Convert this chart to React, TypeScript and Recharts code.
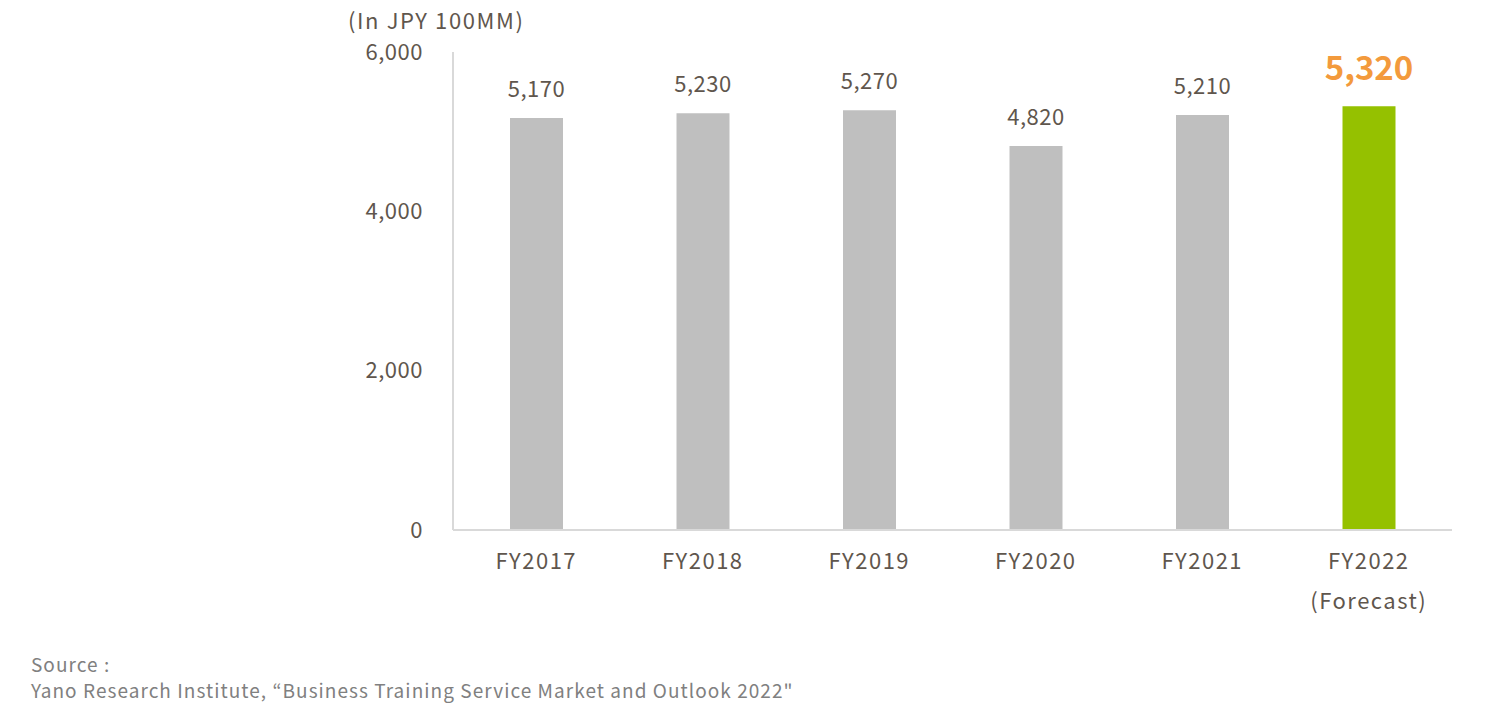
import React from 'react';
import { BarChart, Bar, XAxis, YAxis, Cell, LabelList } from 'recharts';

const years = ['FY2017', 'FY2018', 'FY2019', 'FY2020', 'FY2021', 'FY2022\n(Forecast)'];
const marketSize = [5170, 5230, 5270, 4820, 5210, 5320];
const yTicks = [0, 2000, 4000, 6000];

const FONT = '"Noto Sans CJK JP", "Noto Sans", sans-serif';
const TEXT = '#5f564d';
const GRAY_BAR = '#bfbfbf';
const GREEN_BAR = '#95c100';
const ORANGE = '#f39a3c';

const data = years.map((year, i) => ({ year, value: marketSize[i], forecast: i === years.length - 1 }));

const YearTick: React.FC<any> = ({ x, y, payload }) => {
  const lines = String(payload.value).split('\n');
  return (
    <text x={x} y={y} textAnchor="middle" fill={TEXT} fontFamily={FONT} fontSize={22} letterSpacing={1.5}>
      {lines.map((line, i) => (
        <tspan key={i} x={x} dy={i === 0 ? 31 : 40}>{line}</tspan>
      ))}
    </text>
  );
};

const ValueLabel: React.FC<any> = (props) => {
  const { x, y, width, value, index } = props;
  const isForecast = data[index]?.forecast;
  return (
    <text
      x={x + width / 2}
      y={isForecast ? y - 26 : y - 21}
      textAnchor="middle"
      fill={isForecast ? ORANGE : TEXT}
      fontFamily={FONT}
      fontSize={isForecast ? 33 : 22}
      fontWeight={isForecast ? 700 : 400}
      letterSpacing={isForecast ? 0 : 0.5}
    >
      {value.toLocaleString('en-US')}
    </text>
  );
};

export default function App() {
  return (
    <div style={{ position: 'absolute', left: 0, top: 0, width: 1504, height: 712, background: '#fff', fontFamily: FONT }}>
      <div style={{ position: 'absolute', left: 348, top: 5, fontSize: 22, color: TEXT, lineHeight: '28px', letterSpacing: 1.6 }}>
        (In JPY 100MM)
      </div>
      <BarChart width={1504} height={712} data={data} margin={{ top: 52, right: 52, left: 373, bottom: 122 }}>
        <YAxis
          width={80}
          domain={[0, 6000]}
          ticks={yTicks}
          interval={0}
          tickFormatter={(v) => v.toLocaleString('en-US')}
          axisLine={{ stroke: '#d9d9d9', strokeWidth: 2 }}
          tickLine={false}
          tickMargin={24}
          tick={{ fill: TEXT, fontSize: 22, fontFamily: FONT, letterSpacing: 0.5 }}
        />
        <XAxis
          dataKey="year"
          height={60}
          interval={0}
          axisLine={{ stroke: '#d9d9d9', strokeWidth: 2 }}
          tickLine={false}
          tick={<YearTick />}
        />
        <Bar dataKey="value" barSize={53} isAnimationActive={false}>
          {data.map((d, i) => (
            <Cell key={i} fill={d.forecast ? GREEN_BAR : GRAY_BAR} />
          ))}
          <LabelList dataKey="value" content={<ValueLabel />} />
        </Bar>
      </BarChart>
      <div style={{ position: 'absolute', left: 31, top: 651, fontSize: 19, color: '#808080', lineHeight: '26px', letterSpacing: 1.05 }}>
        Source :<br />
        Yano Research Institute, “Business Training Service Market and Outlook 2022"
      </div>
    </div>
  );
}
